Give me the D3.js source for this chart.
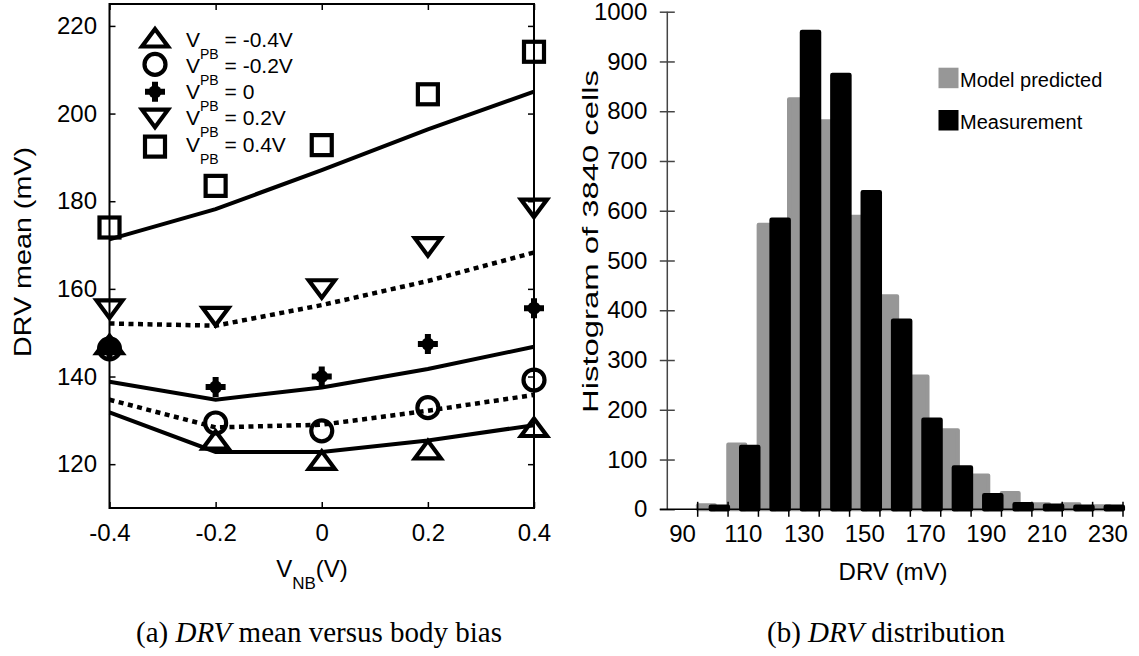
<!DOCTYPE html>
<html><head><meta charset="utf-8">
<script src="https://cdn.jsdelivr.net/npm/d3@7/dist/d3.min.js"></script>
<style>
body{margin:0;background:#fff}
svg{display:block}
text{font-family:"Liberation Sans",Arial,sans-serif;fill:#000}
.serif{font-family:"Liberation Serif","Times New Roman",serif}
</style>
</head><body>
<svg id="c" width="1139" height="656"></svg>
<script>
// ---------- Left panel data (DRV mean vs V_NB) ----------
const vnb = [-0.4, -0.2, 0, 0.2, 0.4];
const vnbTicks = [-0.4, -0.2, 0, 0.2, 0.4];
const vnbTickLabels = ["-0.4", "-0.2", "0", "0.2", "0.4"];
const meanTicks = [120, 140, 160, 180, 200, 220];
const vpbLabels = ["-0.4V", "-0.2V", "0", "0.2V", "0.4V"];
const vpbMarkers = ["tri", "circ", "plus", "dtri", "sq"];
const lineStyles = ["solid", "dot", "solid", "dot", "solid"];
// measured points (markers)
const measTri  = [147.5, 125.7, 121.1, 123.5, 128.6]; // VPB=-0.4
const measCirc = [146.3, 129.4, 127.6, 132.9, 139.2]; // VPB=-0.2
const measPlus = [146.5, 137.6, 140.0, 147.4, 155.6]; // VPB=0
const measDtri = [155.2, 153.5, 159.8, 169.4, 178.2]; // VPB=0.2
const measSq   = [174.0, 183.5, 192.8, 204.4, 214.1]; // VPB=0.4
// model lines
const modTri  = [131.8, 122.8, 122.8, 125.4, 128.9];
const modCirc = [134.7, 128.4, 129.0, 132.2, 135.8];
const modPlus = [138.8, 134.7, 137.5, 141.7, 146.8];
const modDtri = [152.1, 151.6, 156.3, 161.8, 168.3];
const modSq   = [171.3, 178.2, 187.1, 196.4, 205.0];

// ---------- Right panel data (DRV histogram) ----------
const drvBins = [90,100,110,120,130,140,150,160,170,180,190,200,210,220,230];
const drvLabels = [90,110,130,150,170,190,210,230];
const modelCounts = [0, 8, 130, 572, 824, 780, 588, 428, 267, 159, 68, 33, 10, 10, 6];
const measCounts  = [0, 5, 125, 582, 959, 873, 637, 379, 180, 84, 28, 10, 7, 5, 5];
const countTicks = [0,100,200,300,400,500,600,700,800,900,1000];
const legendNames = ["Model predicted", "Measurement"];
const barColors = ["#979797", "#000000"];

const svg = d3.select("#c");
const SANS = '"Liberation Sans",Arial,sans-serif';

// ================= LEFT PANEL =================
const xL = d3.scaleLinear().domain([-0.4, 0.4]).range([109.5, 534]);
const yL = d3.scaleLinear().domain([110, 225]).range([508, 4]);
const L = svg.append("g");

function styleAxis(g, fs) {
  g.select(".domain").remove();
  g.selectAll(".tick line").attr("stroke", "#000").attr("stroke-width", 1.5);
  g.selectAll("text").attr("font-size", fs).attr("font-family", SANS).attr("fill", "#000");
}
const fmtL = d => vnbTickLabels[vnbTicks.indexOf(d)];
L.append("g").attr("transform", `translate(0,${yL.range()[0]})`)
  .call(d3.axisBottom(xL).tickValues(vnbTicks).tickFormat(fmtL).tickSizeInner(-6).tickSizeOuter(0).tickPadding(16))
  .call(g => styleAxis(g, 24));
L.append("g").attr("transform", `translate(0,${yL.range()[1]})`)
  .call(d3.axisTop(xL).tickValues(vnbTicks).tickFormat("").tickSizeInner(-6).tickSizeOuter(0))
  .call(g => styleAxis(g, 24));
L.append("g").attr("transform", `translate(${xL.range()[0]},0)`)
  .call(d3.axisLeft(yL).tickValues(meanTicks).tickFormat(d3.format("d")).tickSizeInner(-6).tickSizeOuter(0).tickPadding(12.5))
  .call(g => styleAxis(g, 24));
L.append("g").attr("transform", `translate(${xL.range()[1]},0)`)
  .call(d3.axisRight(yL).tickValues(meanTicks).tickFormat("").tickSizeInner(-6).tickSizeOuter(0))
  .call(g => styleAxis(g, 24));
L.append("rect")
  .attr("x", xL.range()[0]).attr("y", yL.range()[1])
  .attr("width", xL.range()[1] - xL.range()[0]).attr("height", yL.range()[0] - yL.range()[1])
  .attr("fill", "none").attr("stroke", "#000").attr("stroke-width", 2);

// model lines
const modelSets = [modTri, modCirc, modPlus, modDtri, modSq];
const measSets = [measTri, measCirc, measPlus, measDtri, measSq];
const lineGen = d3.line().x((d, i) => xL(vnb[i])).y(d => yL(d));
modelSets.forEach((arr, k) => {
  L.append("path").attr("d", lineGen(arr)).attr("fill", "none").attr("stroke", "#000")
    .attr("stroke-width", lineStyles[k] === "dot" ? 4.5 : 4)
    .attr("stroke-dasharray", lineStyles[k] === "dot" ? "5 4.5" : null);
});

function drawMarker(g, type) {
  const s = g.append("g");
  const st = {fill: "none", stroke: "#000", "stroke-width": 4.2};
  const apply = sel => { Object.entries(st).forEach(([k, v]) => sel.attr(k, v)); return sel; };
  if (type === "tri") apply(s.append("path").attr("d", "M0,-8L13,9.5L-13,9.5Z"));
  else if (type === "dtri") apply(s.append("path").attr("d", "M0,8L13,-9.5L-13,-9.5Z"));
  else if (type === "circ") apply(s.append("circle").attr("r", 10.5));
  else if (type === "sq") apply(s.append("rect").attr("x", -10).attr("y", -10).attr("width", 20).attr("height", 20));
  else if (type === "plus") {
    s.append("path").attr("d", "M-10,0H10M0,-10V10").attr("stroke", "#000").attr("stroke-width", 6);
    s.append("circle").attr("r", 6.5).attr("fill", "#000");
  }
  return s;
}
measSets.forEach((arr, k) => {
  arr.forEach((v, i) => {
    drawMarker(L, vpbMarkers[k]).attr("transform", `translate(${xL(vnb[i])},${yL(v)})`);
  });
});

// legend (left)
vpbLabels.forEach((lab, i) => {
  drawMarker(L, vpbMarkers[i]).attr("transform", `translate(155,${37 + 27.4 * i})`);
  const by = 46.5 + 26.3 * i;
  const t = L.append("text").attr("x", 186).attr("y", by).attr("font-size", 21);
  t.append("tspan").text("V");
  t.append("tspan").attr("font-size", 14).attr("dy", 12).text("PB");
  t.append("tspan").attr("dy", -12).text(" = " + lab);
});

// axis titles
const xt = L.append("text").attr("x", 312).attr("y", 577).attr("text-anchor", "middle").attr("font-size", 24);
xt.append("tspan").text("V");
xt.append("tspan").attr("font-size", 17).attr("dy", 12).text("NB");
xt.append("tspan").attr("dy", -12).text("(V)");
L.append("text").attr("transform", "translate(31,252) rotate(-90)").attr("text-anchor", "middle")
  .attr("font-size", 24).attr("textLength", 210).attr("lengthAdjust", "spacingAndGlyphs").text("DRV mean (mV)");
const capA = L.append("text").attr("class", "serif").attr("x", 319).attr("y", 641.5).attr("text-anchor", "middle").attr("font-size", 29);
capA.append("tspan").text("(a) ");
capA.append("tspan").attr("font-style", "italic").text("DRV");
capA.append("tspan").text(" mean versus body bias");

// ================= RIGHT PANEL =================
const xR = d3.scaleBand().domain(drvBins).range([667.3, 1123]).paddingInner(0).paddingOuter(0);
const yR = d3.scaleLinear().domain([0, 1000]).range([509.3, 11.7]);
const R = svg.append("g");
const bw = xR.bandwidth();

// y axis
R.append("g").attr("transform", `translate(${xR.range()[0]},0)`)
  .call(d3.axisLeft(yR).tickValues(countTicks).tickFormat(d3.format("d")).tickSizeInner(7.5).tickSizeOuter(0).tickPadding(12.5))
  .call(g => {
    g.select(".domain").remove();
    g.selectAll(".tick line").attr("x1", 7.5).attr("stroke", "#444").attr("stroke-width", 1.5);
    g.selectAll("text").attr("font-size", 24).attr("font-family", SANS).attr("fill", "#000");
  });
R.append("line").attr("x1", xR.range()[0]).attr("x2", xR.range()[0])
  .attr("y1", yR(0)).attr("y2", yR(1000)).attr("stroke", "#444").attr("stroke-width", 1.5);

// bars
const barW = 17, off = 6.5;
R.selectAll("rect.model").data(drvBins.map((c, i) => ({c, v: modelCounts[i]})).filter(d => d.v > 0))
  .join("rect").attr("class", "model")
  .attr("x", d => xR(d.c) + bw / 2 - off - barW / 2).attr("width", barW)
  .attr("y", d => yR(d.v)).attr("height", d => yR(0) - yR(d.v))
  .attr("fill", barColors[0]).attr("stroke", barColors[0]).attr("stroke-width", 4).attr("stroke-linejoin", "round");

// x axis line
R.append("line").attr("x1", xR.range()[0] - 7.5).attr("x2", xR.range()[1])
  .attr("y1", yR(0)).attr("y2", yR(0)).attr("stroke", "#000").attr("stroke-width", 1.5);

R.selectAll("rect.meas").data(drvBins.map((c, i) => ({c, v: measCounts[i]})).filter(d => d.v > 0))
  .join("rect").attr("class", "meas")
  .attr("x", d => xR(d.c) + bw / 2 + off - barW / 2).attr("width", barW)
  .attr("y", d => yR(d.v)).attr("height", d => yR(0) - yR(d.v))
  .attr("fill", barColors[1]).attr("stroke", barColors[1]).attr("stroke-width", 4.5).attr("stroke-linejoin", "round");

// x ticks at bin boundaries
const bounds = drvBins.map(c => xR(c)).concat([xR.range()[1]]);
R.selectAll("line.xt").data(bounds.slice(1)).join("line").attr("class", "xt")
  .attr("x1", d => d).attr("x2", d => d).attr("y1", yR(0) - 7.5).attr("y2", yR(0) + 7.5)
  .attr("stroke", "#000").attr("stroke-width", 1.5);
R.append("g").attr("transform", `translate(0,${yR(0)})`)
  .call(d3.axisBottom(xR).tickValues(drvLabels).tickSize(0).tickPadding(16))
  .call(g => {
    g.select(".domain").remove();
    g.selectAll("text").attr("font-size", 24).attr("font-family", SANS).attr("fill", "#000");
  });

// legend (right)
legendNames.forEach((n, i) => {
  R.append("rect").attr("x", 938.5).attr("y", 67.7 + 42.3 * i).attr("width", 20).attr("height", 20.5).attr("fill", barColors[i]);
  R.append("text").attr("x", 960).attr("y", 86.5 + 42.3 * i).attr("font-size", 20).text(n);
});

// titles
R.append("text").attr("x", 893).attr("y", 580).attr("text-anchor", "middle").attr("font-size", 24).text("DRV (mV)");
R.append("text").attr("transform", "translate(598,241.5) rotate(-90)").attr("text-anchor", "middle")
  .attr("font-size", 22).attr("textLength", 343).attr("lengthAdjust", "spacingAndGlyphs").text("Histogram of 3840 cells");
const capB = R.append("text").attr("class", "serif").attr("x", 886).attr("y", 641.5).attr("text-anchor", "middle").attr("font-size", 29);
capB.append("tspan").text("(b) ");
capB.append("tspan").attr("font-style", "italic").text("DRV");
capB.append("tspan").text(" distribution");
</script>
</body></html>
